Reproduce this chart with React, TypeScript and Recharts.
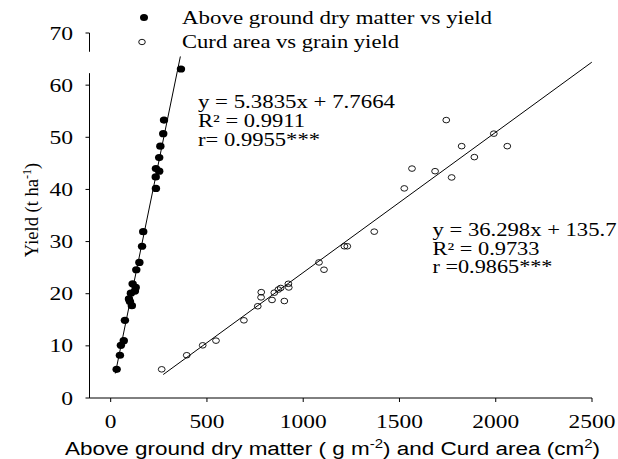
import { ReferenceLine, Scatter, ScatterChart, XAxis, YAxis } from "recharts";

// above ground dry matter (g m-2) vs yield (t ha-1)
const dryMatter = [31, 48, 53, 68, 74, 110, 100, 95, 105, 126, 130, 114, 133, 149, 163, 169, 235, 234, 252, 235, 252, 258, 273, 277, 365];
const dryYield = [5.5, 8.2, 10.1, 11.0, 14.9, 17.7, 18.5, 19.0, 20.1, 20.5, 21.2, 21.9, 24.6, 26.0, 29.1, 31.9, 40.2, 42.4, 43.5, 44.0, 46.1, 48.3, 50.7, 53.3, 63.1];

// curd area (cm2) vs grain yield
const curdArea = [265, 395, 478, 547, 692, 764, 781, 782, 838, 850, 871, 883, 902, 923, 925, 1082, 1108, 1214, 1229, 1369, 1525, 1565, 1685, 1771, 1823, 1743, 1889, 1990, 2060];
const curdYield = [5.5, 8.2, 10.1, 11.0, 14.9, 17.6, 19.3, 20.3, 18.8, 20.2, 20.8, 21.1, 18.6, 21.9, 21.2, 26.0, 24.6, 29.1, 29.1, 31.9, 40.2, 44.0, 43.5, 42.3, 48.3, 53.3, 46.2, 50.7, 48.3];

// fitted lines, end points
const dryFit = [{ x: 24, y: 4.7 }, { x: 362, y: 65.5 }];
const curdFit = [{ x: 273, y: 4.5 }, { x: 2499, y: 64.4 }];

const xTicks = [0, 500, 1000, 1500, 2000, 2500];
const yTicks = [0, 10, 20, 30, 40, 50, 60, 70];

const dryData = dryMatter.map((x, i) => ({ x, y: dryYield[i] }));
const curdData = curdArea.map((x, i) => ({ x, y: curdYield[i] }));

const serif = "'Liberation Serif', 'Times New Roman', serif";
const sans = "'Liberation Sans', Arial, sans-serif";

const XTick = (props: any) => {
  const label = String(props.payload.value);
  return (
    <text x={props.x} y={428} textAnchor="middle" fontFamily={serif} fontSize={18} fill="#000"
      textLength={11.7 * label.length} lengthAdjust="spacingAndGlyphs">
      {label}
    </text>
  );
};

const YTick = (props: any) => {
  const label = String(props.payload.value);
  return (
    <text x={73} y={props.y + 6.5} textAnchor="end" fontFamily={serif} fontSize={18} fill="#000"
      textLength={11.8 * label.length} lengthAdjust="spacingAndGlyphs">
      {label}
    </text>
  );
};

const Dot = (props: any) => <ellipse cx={props.cx} cy={props.cy} rx={4.2} ry={3.6} fill="#000" />;
const Ring = (props: any) => (
  <ellipse cx={props.cx} cy={props.cy} rx={3.4} ry={2.8} fill="none" stroke="#000" strokeWidth={0.9} />
);

export default function App() {
  const txt = { fontFamily: serif, fontSize: 18, fill: "#000", whiteSpace: "pre" as const };
  return (
    <div style={{ position: "absolute", left: 0, top: 0, width: 618, height: 459, background: "#fff" }}>
      <ScatterChart width={618} height={459} margin={{ top: 33, right: 26, bottom: 31, left: 29.5 }}>
        <XAxis
          type="number"
          dataKey="x"
          domain={[-110, 2500]}
          ticks={xTicks}
          height={30}
          tickSize={4}
          tick={XTick}
          axisLine={{ stroke: "#000" }}
          tickLine={{ stroke: "#000" }}
          allowDataOverflow
        />
        <YAxis
          type="number"
          dataKey="y"
          domain={[0, 70]}
          ticks={yTicks}
          width={60}
          tickSize={4}
          tick={YTick}
          axisLine={false}
          tickLine={{ stroke: "#000" }}
        />
        {/* y axis drawn in two pieces, with the break near the top */}
        <ReferenceLine segment={[{ x: -110, y: 70 }, { x: -110, y: 66.4 }]} stroke="#000" ifOverflow="visible" />
        <ReferenceLine segment={[{ x: -110, y: 62.3 }, { x: -110, y: 0 }]} stroke="#000" ifOverflow="visible" />
        <ReferenceLine segment={dryFit} stroke="#000" strokeWidth={1} ifOverflow="visible" />
        <ReferenceLine segment={curdFit} stroke="#000" strokeWidth={1} ifOverflow="visible" />
        <Scatter data={dryData} shape={Dot} isAnimationActive={false} />
        <Scatter data={curdData} shape={Ring} isAnimationActive={false} />
      </ScatterChart>
      <svg width={618} height={459} style={{ position: "absolute", left: 0, top: 0, pointerEvents: "none" }}>
        {/* legend */}
        <ellipse cx={144} cy={17.5} rx={4} ry={3.5} fill="#000" />
        <text x={182} y={23.5} {...txt} textLength={310} lengthAdjust="spacingAndGlyphs">
          Above ground dry matter  vs  yield
        </text>
        <ellipse cx={142} cy={42} rx={3.3} ry={2.7} fill="none" stroke="#000" strokeWidth={0.9} />
        <text x={182} y={47.5} {...txt} textLength={217} lengthAdjust="spacingAndGlyphs">
          Curd area  vs grain yield
        </text>

        {/* equations */}
        <text x={198} y={108} {...txt} textLength={197} lengthAdjust="spacingAndGlyphs">y = 5.3835x + 7.7664</text>
        <text x={198} y={127} {...txt} textLength={107} lengthAdjust="spacingAndGlyphs">R² = 0.9911</text>
        <text x={198} y={146} {...txt} textLength={122} lengthAdjust="spacingAndGlyphs">r= 0.9955***</text>

        <text x={432.5} y={236} {...txt} textLength={184} lengthAdjust="spacingAndGlyphs">y = 36.298x + 135.7</text>
        <text x={432.5} y={254.5} {...txt} textLength={107} lengthAdjust="spacingAndGlyphs">R² = 0.9733</text>
        <text x={432.5} y={273} {...txt} textLength={120} lengthAdjust="spacingAndGlyphs">r =0.9865***</text>

        {/* axis titles */}
        <text transform="translate(38,210) rotate(-90)" textAnchor="middle" fontFamily={serif} fontSize={18.5} fill="#000">
          Yield (t ha<tspan dy={-7} fontSize={12}>-1</tspan><tspan dy={7}>)</tspan>
        </text>
        <text x={65} y={455} fontFamily={sans} fontSize={18} fill="#000" textLength={535} lengthAdjust="spacingAndGlyphs">
          Above ground dry matter ( g m<tspan dy={-7} fontSize={12}>-2</tspan>
          <tspan dy={7}>) and Curd area (cm</tspan>
          <tspan dy={-7} fontSize={12}>2</tspan>
          <tspan dy={7}>)</tspan>
        </text>
      </svg>
    </div>
  );
}
